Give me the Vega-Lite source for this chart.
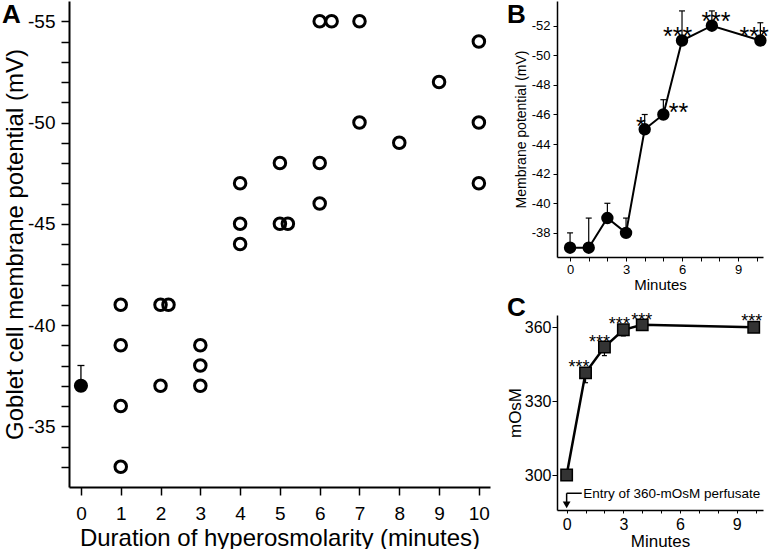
{
  "$schema": "https://vega.github.io/schema/vega-lite/v6.json",
  "autosize": {"type": "pad"},
  "padding": {"left": 2, "top": 1, "right": 0, "bottom": 0},
  "background": "white",
  "bounds": "flush",
  "spacing": 67,
  "config": {
    "font": "Liberation Sans",
    "view": {"stroke": null},
    "axis": {"domainColor": "black", "tickColor": "black", "labelColor": "black", "titleColor": "black", "titleFontWeight": "normal", "grid": false, "labelFont": "Liberation Sans", "titleFont": "Liberation Sans", "labelFlush": false, "labelOverlap": false}
  },
  "datasets": {
    "a": [
      {"t": 0, "mv": -37, "kind": "mean", "hi": -38},
      {"t": 1, "mv": -41, "kind": "cell"}, {"t": 1, "mv": -39, "kind": "cell"}, {"t": 1, "mv": -36, "kind": "cell"}, {"t": 1, "mv": -33, "kind": "cell"},
      {"t": 2, "mv": -41, "kind": "cell"}, {"t": 2.2, "mv": -41, "kind": "cell"}, {"t": 2, "mv": -37, "kind": "cell"},
      {"t": 3, "mv": -39, "kind": "cell"}, {"t": 3, "mv": -38, "kind": "cell"}, {"t": 3, "mv": -37, "kind": "cell"},
      {"t": 4, "mv": -47, "kind": "cell"}, {"t": 4, "mv": -45, "kind": "cell"}, {"t": 4, "mv": -44, "kind": "cell"},
      {"t": 5, "mv": -48, "kind": "cell"}, {"t": 5, "mv": -45, "kind": "cell"}, {"t": 5.2, "mv": -45, "kind": "cell"},
      {"t": 6, "mv": -55, "kind": "cell"}, {"t": 6.3, "mv": -55, "kind": "cell"}, {"t": 6, "mv": -48, "kind": "cell"}, {"t": 6, "mv": -46, "kind": "cell"},
      {"t": 7, "mv": -55, "kind": "cell"}, {"t": 7, "mv": -50, "kind": "cell"},
      {"t": 8, "mv": -49, "kind": "cell"},
      {"t": 9, "mv": -52, "kind": "cell"},
      {"t": 10, "mv": -54, "kind": "cell"}, {"t": 10, "mv": -50, "kind": "cell"}, {"t": 10, "mv": -47, "kind": "cell"}
    ],
    "b": [
      {"t": 0, "mv": -37, "hi": -38}, {"t": 1, "mv": -37, "hi": -39}, {"t": 2, "mv": -39, "hi": -40},
      {"t": 3, "mv": -38, "hi": -39}, {"t": 4, "mv": -45, "hi": -46}, {"t": 5, "mv": -46, "hi": -47},
      {"t": 6, "mv": -51, "hi": -53}, {"t": 7.6, "mv": -52, "hi": -53}, {"t": 10.2, "mv": -51, "hi": -52.2}
    ],
    "b_sig": [
      {"t": 3.8, "mv": -45.66, "sig": "*"}, {"t": 5.81, "mv": -46.57, "sig": "**"},
      {"t": 5.76, "mv": -51.68, "sig": "***"}, {"t": 7.82, "mv": -52.72, "sig": "***"},
      {"t": 9.86, "mv": -51.68, "sig": "***"}
    ],
    "c": [
      {"t": 0, "osm": 300, "lo": 298}, {"t": 1, "osm": 341.5, "lo": 337.5}, {"t": 2, "osm": 352, "lo": 348.5},
      {"t": 3, "osm": 359, "lo": 356.5}, {"t": 4, "osm": 361, "lo": 359.5}, {"t": 9.9, "osm": 360, "lo": 359}
    ],
    "c_sig": [
      {"t": 0.65, "osm": 345.5, "sig": "***"}, {"t": 1.74, "osm": 355.6, "sig": "***"},
      {"t": 2.79, "osm": 363, "sig": "***"}, {"t": 3.98, "osm": 364.6, "sig": "***"},
      {"t": 9.8, "osm": 364.2, "sig": "***"}
    ],
    "c_note": [{"t": 0.88, "osm": 292.4, "note": "Entry of 360-mOsM perfusate"}],
    "c_arrow": [
      {"t": 0, "osm": 292.6, "t2": 0.8, "osm2": 292.6},
      {"t": 0, "osm": 292.6, "t2": 0, "osm2": 288.5}
    ],
    "c_head": [{"t": 0, "osm": 287.9}]
  },
  "hconcat": [
    {
      "width": 421,
      "height": 486,
      "title": {"text": "A", "anchor": "start", "frame": "group", "orient": "top", "offset": -27, "dx": -67, "dy": 21, "baseline": "alphabetic", "fontSize": 26, "fontWeight": "bold", "color": "black"},
      "data": {"name": "a"},
      "encoding": {
        "x": {"field": "t", "type": "quantitative",
          "scale": {"domain": [-0.3, 10.28], "nice": false, "zero": false},
          "axis": {"values": [0, 1, 2, 3, 4, 5, 6, 7, 8, 9, 10], "title": "Duration of hyperosmolarity (minutes)", "tickSize": 8, "tickWidth": 1.5, "domainWidth": 2, "labelFontSize": 19, "labelPadding": 9, "titleFontSize": 24, "titlePadding": 3}},
        "y": {"field": "mv", "type": "quantitative",
          "scale": {"domain": [-56, -32], "reverse": true, "nice": false, "zero": false},
          "axis": {"values": [-55, -54, -53, -52, -51, -50, -49, -48, -47, -46, -45, -44, -43, -42, -41, -40, -39, -38, -37, -36, -35, -34, -33], "labelExpr": "datum.value % 5 === 0 ? '-' + abs(datum.value) : ''", "title": "Goblet cell membrane potential (mV)", "tickSize": 8, "tickWidth": 1.5, "domainWidth": 2, "labelFontSize": 19, "labelPadding": 6, "titleFontSize": 24, "titlePadding": 0}}
      },
      "layer": [
        {"transform": [{"filter": "datum.kind === 'cell'"}],
         "mark": {"type": "point", "shape": "circle", "filled": false, "stroke": "black", "strokeWidth": 3, "size": 133, "opacity": 1}},
        {"transform": [{"filter": "datum.kind === 'mean'"}],
         "mark": {"type": "rule", "stroke": "black", "strokeWidth": 1.3},
         "encoding": {"y2": {"field": "hi"}}},
        {"transform": [{"filter": "datum.kind === 'mean'"}],
         "mark": {"type": "tick", "orient": "horizontal", "color": "black", "size": 7, "thickness": 1.3, "opacity": 1},
         "encoding": {"y": {"field": "hi", "type": "quantitative"}}},
        {"transform": [{"filter": "datum.kind === 'mean'"}],
         "mark": {"type": "point", "shape": "circle", "filled": true, "color": "black", "size": 200, "opacity": 1}}
      ]
    },
    {
      "bounds": "flush",
      "spacing": 58,
      "vconcat": [
        {
          "width": 206,
          "height": 256,
          "title": {"text": "B", "anchor": "start", "frame": "group", "orient": "top", "offset": -27, "dx": -50, "dy": 21, "baseline": "alphabetic", "fontSize": 26, "fontWeight": "bold", "color": "black"},
          "data": {"name": "b"},
          "encoding": {
            "x": {"field": "t", "type": "quantitative",
              "scale": {"domain": [-0.7, 10.34], "nice": false, "zero": false},
              "axis": {"values": [0, 1, 2, 3, 4, 5, 6, 7, 8, 9, 10], "labelExpr": "datum.value % 3 === 0 ? datum.label : ''", "title": "Minutes", "tickSize": 4, "domainWidth": 1.5, "labelFontSize": 13, "labelPadding": 2, "titleFontSize": 15, "titlePadding": 1}},
            "y": {"field": "mv", "type": "quantitative",
              "scale": {"domain": [-53.67, -36.37], "reverse": true, "nice": false, "zero": false},
              "axis": {"values": [-38, -40, -42, -44, -46, -48, -50, -52], "labelExpr": "'-' + abs(datum.value)", "title": "Membrane potential (mV)", "tickSize": 4, "domainWidth": 1.5, "labelFontSize": 13, "labelPadding": 3, "titleFontSize": 14, "titlePadding": 3}}
          },
          "layer": [
            {"mark": {"type": "line", "stroke": "black", "strokeWidth": 2}},
            {"mark": {"type": "rule", "stroke": "black", "strokeWidth": 1.2}, "encoding": {"y2": {"field": "hi"}}},
            {"mark": {"type": "tick", "orient": "horizontal", "color": "black", "size": 6, "thickness": 1.2, "opacity": 1},
             "encoding": {"y": {"field": "hi", "type": "quantitative"}}},
            {"mark": {"type": "point", "shape": "circle", "filled": true, "color": "black", "size": 154, "opacity": 1}},
            {"data": {"name": "b_sig"},
             "mark": {"type": "text", "fontSize": 25, "align": "center", "baseline": "middle", "dy": 7, "color": "black"},
             "encoding": {"text": {"field": "sig"}}}
          ]
        },
        {
          "width": 206,
          "height": 195,
          "title": {"text": "C", "anchor": "start", "frame": "group", "orient": "top", "offset": -28, "dx": -50, "dy": 2, "baseline": "alphabetic", "fontSize": 26, "fontWeight": "bold", "color": "black"},
          "data": {"name": "c"},
          "encoding": {
            "x": {"field": "t", "type": "quantitative",
              "scale": {"domain": [-0.51, 10.39], "nice": false, "zero": false},
              "axis": {"values": [0, 1, 2, 3, 4, 5, 6, 7, 8, 9, 10], "labelExpr": "datum.value % 3 === 0 ? datum.label : ''", "title": "Minutes", "tickSize": 3, "domainWidth": 1.5, "labelFontSize": 16, "labelPadding": 3, "titleFontSize": 17, "titlePadding": 1}},
            "y": {"field": "osm", "type": "quantitative",
              "scale": {"domain": [285.8, 365], "nice": false, "zero": false},
              "axis": {"values": [300, 330, 360], "title": "mOsM", "tickSize": 5, "domainWidth": 1.5, "labelFontSize": 16, "labelPadding": 1, "titleFontSize": 17, "titlePadding": 0}}
          },
          "layer": [
            {"mark": {"type": "line", "stroke": "black", "strokeWidth": 2.5}},
            {"mark": {"type": "rule", "stroke": "black", "strokeWidth": 1.2}, "encoding": {"y2": {"field": "lo"}}},
            {"mark": {"type": "tick", "orient": "horizontal", "color": "black", "size": 5, "thickness": 1.2, "opacity": 1},
             "encoding": {"y": {"field": "lo", "type": "quantitative"}}},
            {"mark": {"type": "point", "shape": "square", "filled": true, "fill": "#333333", "stroke": "black", "strokeWidth": 1.5, "size": 130, "opacity": 1}},
            {"data": {"name": "c_sig"},
             "mark": {"type": "text", "fontSize": 18, "align": "center", "baseline": "middle", "dy": 5, "color": "black"},
             "encoding": {"text": {"field": "sig"}}},
            {"data": {"name": "c_note"},
             "mark": {"type": "text", "fontSize": 13.5, "align": "left", "baseline": "middle", "color": "black"},
             "encoding": {"text": {"field": "note"}}},
            {"data": {"name": "c_arrow"},
             "mark": {"type": "rule", "stroke": "black", "strokeWidth": 1.5},
             "encoding": {"x2": {"field": "t2"}, "y2": {"field": "osm2"}}},
            {"data": {"name": "c_head"},
             "mark": {"type": "point", "shape": "triangle-down", "filled": true, "color": "black", "size": 60, "opacity": 1}}
          ]
        }
      ]
    }
  ]
}
